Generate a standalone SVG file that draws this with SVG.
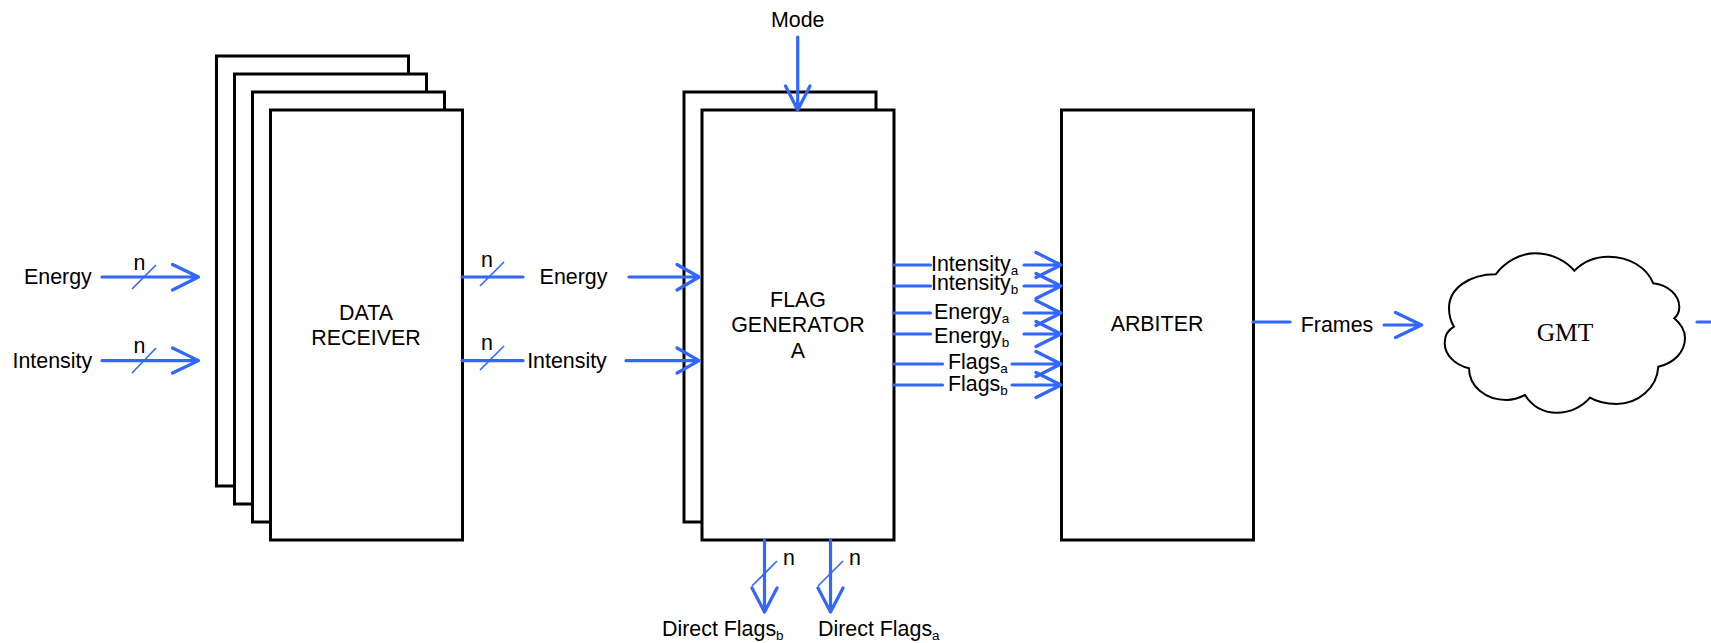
<svg xmlns="http://www.w3.org/2000/svg" width="1711" height="643" viewBox="0 0 1711 643">
<style>
text{font-family:"Liberation Sans",Arial,sans-serif;font-size:21.4px;fill:#000}
.m{text-anchor:middle}
.box{fill:#fff;stroke:#000;stroke-width:3;stroke-linejoin:miter}
.w{fill:none;stroke:#3366ff;stroke-width:3.2;stroke-linecap:round;stroke-linejoin:round}
.s{fill:none;stroke:#3366ff;stroke-width:1.6}
.sub{font-size:13.5px}
</style>
<g id="data-receiver">
<rect class="box" x="216.500" y="56" width="192" height="430"/>
<rect class="box" x="234.500" y="74" width="192" height="430"/>
<rect class="box" x="252.500" y="92" width="192" height="430"/>
<rect class="box" x="270.500" y="110" width="192" height="430"/>
<text class="m" x="366" y="320">DATA</text>
<text class="m" x="366" y="345">RECEIVER</text>
</g>
<g id="flag-generator">
<rect class="box" x="684" y="92" width="192" height="430"/>
<rect class="box" x="702" y="110" width="192" height="430"/>
<text class="m" x="798" y="307">FLAG</text>
<text class="m" x="798" y="332">GENERATOR</text>
<text class="m" x="798" y="358">A</text>
</g>
<g id="arbiter">
<rect class="box" x="1061.500" y="110" width="192" height="430"/>
<text class="m" x="1157" y="331">ARBITER</text>
</g>
<g id="gmt">
<path d="M1495.700,274.300C1505,262 1520,253.300 1535,253.300C1552,253.300 1566,261 1574.300,270.700C1583,262 1595,256.700 1608.300,256.700C1630,256.700 1647,268 1653.300,283.300C1668,285 1679.300,295 1679.300,307C1679.300,312 1677,316 1674.300,318.300C1681,324 1685,331 1685,338C1685,352 1674,363 1658.300,366.700C1657,388 1638,404 1616.700,404C1606,404 1597,402 1590,397.700C1583,406 1571,412.700 1556.700,412.700C1543,412.700 1532,406 1525,395C1519,398 1513,400 1506.700,400C1485,400 1469,386 1469,368.300C1455,365 1444.700,355 1444.700,343C1444.700,336 1448,330 1454,326.700C1451,322 1449,315 1449,308C1449,288 1470,274.300 1495.700,274.300Z" fill="#fff" stroke="#000" stroke-width="2"/>
<text class="m" x="1565" y="341" style="font-family:'Liberation Serif','Times New Roman',serif;font-size:25.500px">GMT</text>
</g>
<g id="connectors">
<path class="w" d="M102,277H198.500M172.500,264.500L198.500,277L172.500,290M102,360.600H198.500M172.500,348L198.500,360.600L172.500,373"/>
<path class="s" d="M132,289L156,265M132,373L156,348"/>
<path class="w" d="M462,277H523M462,360.600H523"/>
<path class="s" d="M480,286L504,262M480,370L504,346"/>
<path class="w" d="M629,277H699M677,264.500L699,277L677,290M626,360.600H699M677,348L699,360.600L677,373"/>
<path class="w" d="M894,265H930.500M1024,265H1061M1036,252.500L1061,265L1036,277.500M894,286H930.500M1024,286H1061M1036,273.500L1061,286L1036,298.500M894,313H930.500M1024,313H1061M1036,300.500L1061,313L1036,325.500M894,334H930.500M1024,334H1061M1036,321.500L1061,334L1036,346.500M894,364H942.500M1012,364H1061M1036,351.500L1061,364L1036,376.500M894,385H942.500M1012,385H1061M1036,372.500L1061,385L1036,397.500"/>
<path class="w" d="M1253,322H1290M1384,325H1421.500M1395.500,312.500L1421.500,325L1395.500,337.500M1697,322H1711"/>
<path class="w" d="M797.700,37V110M785.500,86L797.700,110L810,86"/>
<path class="w" d="M764.500,540V612M752,588L764.500,612L777,588M830.500,540V612M818,588L830.500,612L843,588"/>
<path class="s" d="M752,586L777,561M818,586L843,561"/>
</g>
<g id="labels">
<text x="24" y="284">Energy</text>
<text x="12.500" y="367.500">Intensity</text>
<text class="m" x="139.500" y="270">n</text>
<text class="m" x="139.500" y="353">n</text>
<text class="m" x="487" y="267">n</text>
<text class="m" x="487" y="350">n</text>
<text class="m" x="573.500" y="284">Energy</text>
<text class="m" x="567" y="367.500">Intensity</text>
<text class="m" x="797.700" y="26.500">Mode</text>
<text x="931" y="270.500">Intensity<tspan class="sub" dy="4">a</tspan></text>
<text x="931" y="290">Intensity<tspan class="sub" dy="4">b</tspan></text>
<text x="934" y="319">Energy<tspan class="sub" dy="4">a</tspan></text>
<text x="934" y="343">Energy<tspan class="sub" dy="4">b</tspan></text>
<text x="948" y="369">Flags<tspan class="sub" dy="4">a</tspan></text>
<text x="948" y="391">Flags<tspan class="sub" dy="4">b</tspan></text>
<text class="m" x="1337" y="331.500">Frames</text>
<text x="789" y="565" class="m">n</text>
<text x="855" y="565" class="m">n</text>
<text x="662" y="636">Direct Flags<tspan class="sub" dy="4">b</tspan></text>
<text x="818" y="636">Direct Flags<tspan class="sub" dy="4">a</tspan></text>
</g>
</svg>
